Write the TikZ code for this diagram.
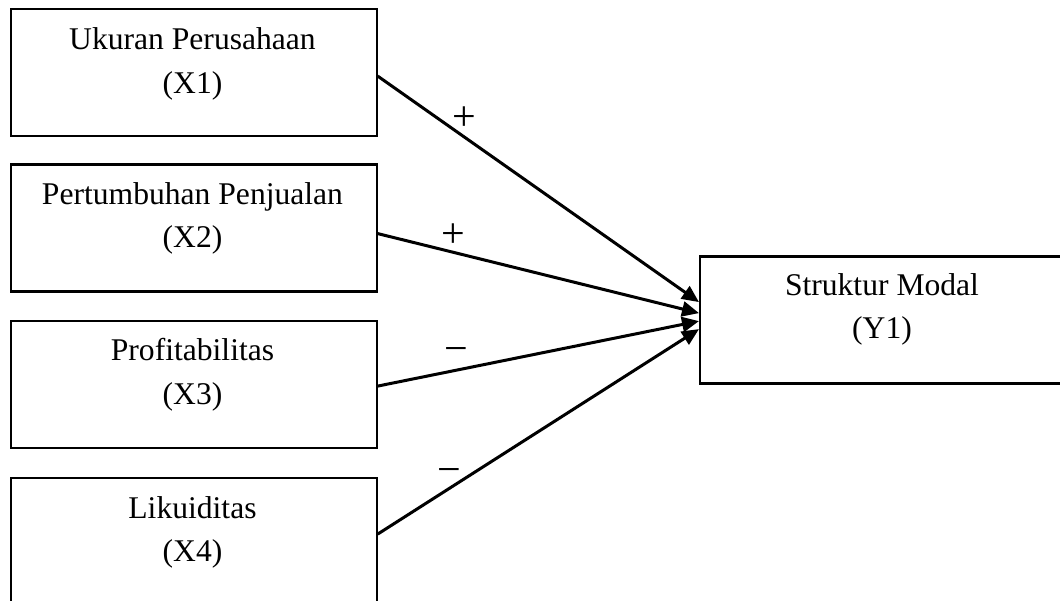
\documentclass[tikz,border=0pt]{standalone}
\usepackage{fontspec}
\setmainfont{Liberation Serif}
\usetikzlibrary{arrows.meta}
\begin{document}
\begin{tikzpicture}[x=1pt,y=-1pt,
  box/.style={draw=black, line width=2.2pt, rectangle, minimum width=366pt, minimum height=127pt, inner sep=0pt, anchor=north west},
  txt/.style={anchor=base, inner sep=0pt, font=\fontsize{31.6}{36}\selectfont},
  sign/.style={inner sep=0pt, font=\fontsize{42}{44}\selectfont},
  conn/.style={line width=3pt, -{Triangle[length=17pt,width=15pt]}}]
\useasboundingbox (0,0) rectangle (1060,601);
\clip (0,0) rectangle (1060,601);
\node[box] (b1) at (9.5,8) {};
\node[box] (b2) at (9.5,163.5) {};
\node[box] (b3) at (9.5,320) {};
\node[box] (b4) at (9.5,477) {};
\node[box] (y1) at (699,255.5) {};
\node[txt] (t1a) at (192.5,50) {Ukuran Perusahaan};
\node[txt] (t1b) at (192.5,94) {(X1)};
\node[txt] (t2a) at (192.5,205) {Pertumbuhan Penjualan};
\node[txt] (t2b) at (192.5,248) {(X2)};
\node[txt] (t3a) at (192.5,361) {Profitabilitas};
\node[txt] (t3b) at (192.5,404) {(X3)};
\node[txt] (t4a) at (192.5,518) {Likuiditas};
\node[txt] (t4b) at (192.5,561) {(X4)};
\node[txt] (ya) at (882,296) {Struktur Modal};
\node[txt] (yb) at (882,339) {(Y1)};
\draw[conn] ([yshift=-3.5pt]b1.east) -- ([yshift=18pt]y1.west);
\draw[conn] ([yshift=-5.5pt]b2.east) -- ([yshift=7pt]y1.west);
\draw[conn] ([yshift=-1.5pt]b3.east) -- ([yshift=-1pt]y1.west);
\draw[conn] ([yshift=7.5pt]b4.east) -- ([yshift=-9pt]y1.west);
\node[sign] (s1) at (464,119) {+};
\node[sign] (s2) at (453,236) {+};
\node[sign] (s3) at (456,355) {−};
\node[sign] (s4) at (449,476) {−};
\end{tikzpicture}
\end{document}
